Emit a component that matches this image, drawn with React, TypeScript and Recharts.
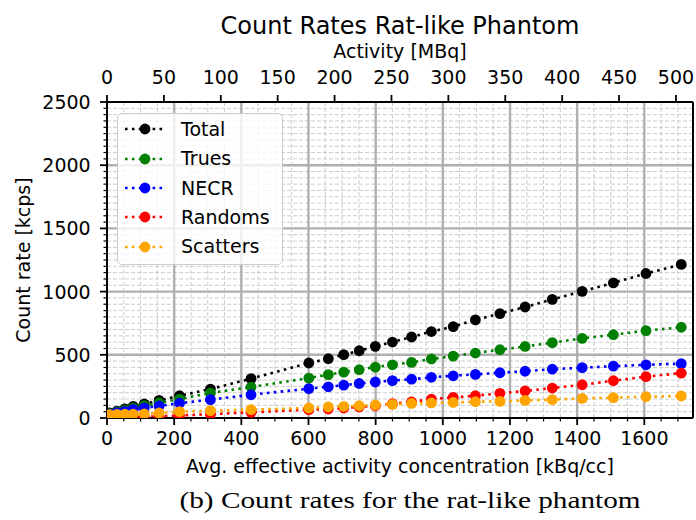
import React from "react"
import { LineChart, Line, XAxis, YAxis, ReferenceLine, Legend } from "recharts"

// Avg. effective activity concentration [kBq/cc]
const concentration = [8, 30, 53, 78, 111, 155, 216, 308, 429, 601, 659, 705, 751, 799, 850, 907, 966, 1031, 1097, 1170, 1245, 1326, 1415, 1508, 1605, 1710]

// count rates [kcps]
const total = [40, 55, 72, 92, 111, 139, 176, 229, 311, 435, 469, 501, 532, 567, 601, 641, 684, 723, 776, 826, 878, 938, 1002, 1069, 1143, 1215]
const trues = [35, 48, 62, 80, 97, 119, 150, 198, 245, 316, 343, 363, 382, 403, 421, 440, 467, 490, 514, 540, 566, 596, 630, 659, 691, 718]
const necr = [30, 42, 53, 68, 80, 95, 117, 145, 184, 232, 247, 260, 273, 285, 296, 307, 322, 334, 345, 358, 370, 386, 398, 410, 421, 430]
const randoms = [1, 2, 4, 6, 9, 13, 20, 30, 45, 66, 71, 79, 87, 97, 113, 127, 150, 163, 176, 195, 214, 237, 263, 295, 327, 355]
const scatters = [27, 28, 30, 31, 32, 40, 50, 58, 66, 79, 87, 92, 97, 103, 108, 115, 119, 123, 129, 131, 139, 145, 155, 161, 168, 174]

const seriesNames = ["Total", "Trues", "NECR", "Randoms", "Scatters"]
const seriesColors = ["#000000", "#008000", "#0000ff", "#ff0000", "#ffa500"]
const seriesValues = [total, trues, necr, randoms, scatters]

const concTicks = [0, 200, 400, 600, 800, 1000, 1200, 1400, 1600]
const activityTicks = [0, 50, 100, 150, 200, 250, 300, 350, 400, 450, 500]
const rateTicks = [0, 500, 1000, 1500, 2000, 2500]

const X_MAX = 1745
const ACT_MAX = 515
const Y_MAX = 2500
const MINOR = 50

const steps = (max: number, step: number) => Array.from({ length: Math.floor(max / step) + 1 }, (_, i) => i * step)
const concMinor = steps(1700, MINOR)
const rateMinor = steps(Y_MAX, MINOR)

const FONT = "'DejaVu Sans', sans-serif"
const TICK = 7
const GAP = 6

const data = concentration.map((c, i) => {
  // activity on the top axis is just the concentration times a fixed volume
  const row: Record<string, number> = { conc: c, activity: (c * ACT_MAX) / X_MAX }
  seriesNames.forEach((name, k) => {
    row[name] = seriesValues[k][i]
  })
  return row
})

function BottomTick(props: any) {
  const { x, y, payload } = props
  const major = concTicks.includes(payload.value)
  const y0 = y - TICK - GAP
  return (
    <g>
      <line x1={x} x2={x} y1={y0} y2={y0 + (major ? TICK : TICK / 2)} stroke="#000" strokeWidth={major ? 1.8 : 1.2} />
      {major && (
        <text x={x} y={y0 + 27.4} textAnchor="middle" fontSize={19} fontFamily={FONT} fill="#000">
          {payload.value}
        </text>
      )}
    </g>
  )
}

function TopTick(props: any) {
  const { x, y, payload } = props
  const y0 = y + TICK + GAP
  return (
    <g>
      <line x1={x} x2={x} y1={y0 - TICK} y2={y0} stroke="#000" strokeWidth={1.8} />
      <text x={x} y={y0 - 17.7} textAnchor="middle" fontSize={19} fontFamily={FONT} fill="#000">
        {payload.value}
      </text>
    </g>
  )
}

function LeftTick(props: any) {
  const { x, y, payload } = props
  const major = rateTicks.includes(payload.value)
  const x0 = x + TICK + GAP
  return (
    <g>
      <line x1={x0 - (major ? TICK : TICK / 2)} x2={x0} y1={y} y2={y} stroke="#000" strokeWidth={major ? 1.8 : 1.2} />
      {major && (
        <text x={x0 - 16.3} y={y} dy={6.9} textAnchor="end" fontSize={19} fontFamily={FONT} fill="#000">
          {payload.value}
        </text>
      )}
    </g>
  )
}

function LegendBox() {
  return (
    <div
      style={{
        width: 166,
        height: 152,
        boxSizing: "border-box",
        border: "1.5px solid #cccccc",
        borderRadius: 5,
        background: "rgba(255,255,255,0.8)",
        paddingTop: 0.6,
        fontFamily: FONT,
        fontSize: 19,
        color: "#000",
      }}
    >
      {seriesNames.map((name, i) => (
        <div key={name} style={{ display: "flex", alignItems: "center", height: 29.4 }}>
          <svg width={63} height={14} style={{ flex: "none" }}>
            <line x1={7} x2={47} y1={7} y2={7} stroke={seriesColors[i]} strokeWidth={2.6} strokeDasharray="2.6 4.3" />
            <circle cx={27} cy={7} r={5.4} fill={seriesColors[i]} />
          </svg>
          <span style={{ lineHeight: "19px" }}>{name}</span>
        </div>
      ))}
    </div>
  )
}

export default function App() {
  return (
    <div style={{ position: "absolute", left: 0, top: 0, width: 696, height: 520, background: "#fff" }}>
      <LineChart width={696} height={520} data={data} margin={{ top: 0, right: 3, bottom: 0, left: 0 }}>
        <XAxis
          xAxisId="bottom"
          dataKey="conc"
          type="number"
          domain={[0, X_MAX]}
          allowDataOverflow
          ticks={concMinor}
          interval={0}
          tick={<BottomTick />}
          tickLine={false}
          tickSize={TICK}
          tickMargin={GAP}
          height={102}
          axisLine={{ stroke: "#000", strokeWidth: 2 }}
        />
        <XAxis
          xAxisId="top"
          dataKey="activity"
          orientation="top"
          type="number"
          domain={[0, ACT_MAX]}
          allowDataOverflow
          ticks={activityTicks}
          interval={0}
          tick={<TopTick />}
          tickLine={false}
          tickSize={TICK}
          tickMargin={GAP}
          height={102}
          axisLine={{ stroke: "#000", strokeWidth: 2 }}
        />
        <YAxis
          yAxisId="left"
          type="number"
          domain={[0, Y_MAX]}
          allowDataOverflow
          ticks={rateMinor}
          interval={0}
          tick={<LeftTick />}
          tickLine={false}
          tickSize={TICK}
          tickMargin={GAP}
          width={107}
          axisLine={{ stroke: "#000", strokeWidth: 2 }}
        />

        {concMinor
          .filter((v) => v > 0 && !concTicks.includes(v))
          .map((v) => (
            <ReferenceLine key={"vx" + v} xAxisId="bottom" yAxisId="left" x={v} stroke="#cccccc" strokeWidth={1} strokeDasharray="4 2" />
          ))}
        {rateMinor
          .filter((v) => v > 0 && !rateTicks.includes(v))
          .map((v) => (
            <ReferenceLine key={"hy" + v} xAxisId="bottom" yAxisId="left" y={v} stroke="#cccccc" strokeWidth={1} strokeDasharray="4 2" />
          ))}
        {concTicks
          .filter((v) => v > 0)
          .map((v) => (
            <ReferenceLine key={"VX" + v} xAxisId="bottom" yAxisId="left" x={v} stroke="#b0b0b0" strokeWidth={2.4} />
          ))}
        {rateTicks
          .filter((v) => v > 0 && v < Y_MAX)
          .map((v) => (
            <ReferenceLine key={"HY" + v} xAxisId="bottom" yAxisId="left" y={v} stroke="#b0b0b0" strokeWidth={2.4} />
          ))}
        <ReferenceLine xAxisId="bottom" yAxisId="left" x={X_MAX} stroke="#000" strokeWidth={2} />

        {/* invisible twin of Total so the top (activity) axis gets a scale */}
        <Line
          xAxisId="top"
          yAxisId="left"
          dataKey="Total"
          stroke="none"
          dot={false}
          activeDot={false}
          legendType="none"
          isAnimationActive={false}
        />

        {seriesNames.map((name, i) => (
          <Line
            key={name}
            xAxisId="bottom"
            yAxisId="left"
            type="linear"
            dataKey={name}
            name={name}
            stroke={seriesColors[i]}
            strokeWidth={2.6}
            strokeDasharray="2.6 4.3"
            dot={{ r: 5.4, fill: seriesColors[i], stroke: seriesColors[i], strokeWidth: 0 }}
            activeDot={false}
            isAnimationActive={false}
          />
        ))}

        <Legend
          layout="vertical"
          align="center"
          verticalAlign="middle"
          content={<LegendBox />}
          wrapperStyle={{ left: 117, top: 113, width: 166, height: 152 }}
        />
      </LineChart>

      <svg width={696} height={520} style={{ position: "absolute", left: 0, top: 0, pointerEvents: "none" }}>
        <text x={400} y={34} textAnchor="middle" fontSize={24} fontFamily={FONT} fill="#000">
          Count Rates Rat-like Phantom
        </text>
        <text x={400} y={58} textAnchor="middle" fontSize={19} fontFamily={FONT} fill="#000">
          Activity [MBq]
        </text>
        <text x={400} y={473} textAnchor="middle" fontSize={19} fontFamily={FONT} fill="#000">
          Avg. effective activity concentration [kBq/cc]
        </text>
        <text x={30} y={260} transform="rotate(-90 30 260)" textAnchor="middle" fontSize={19} fontFamily={FONT} fill="#000">
          Count rate [kcps]
        </text>
        <text x={410} y={508} textAnchor="middle" fontSize={24} fontFamily="'Liberation Serif', serif" fill="#000" textLength={461} lengthAdjust="spacingAndGlyphs">
          (b) Count rates for the rat-like phantom
        </text>
      </svg>
    </div>
  )
}
